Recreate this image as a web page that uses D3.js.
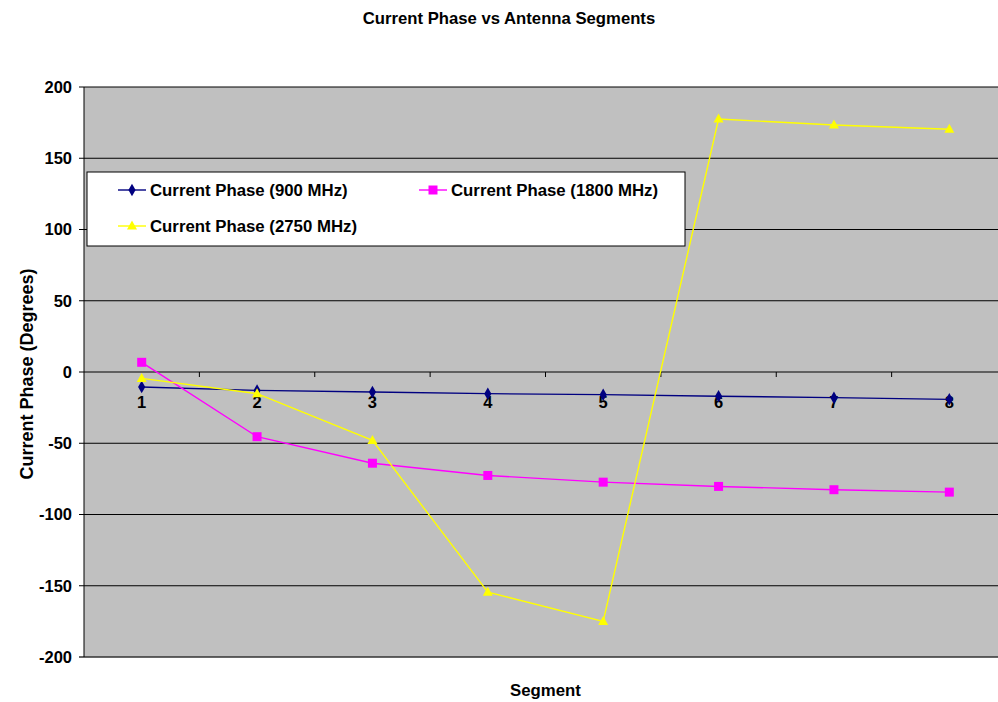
<!DOCTYPE html>
<html lang="en">
  <head>
    <meta charset="utf-8" />
    <title>Current Phase vs Antenna Segments</title>
    <script src="https://d3js.org/d3.v7.min.js"></script>
    <style>
      body { margin: 0; overflow: hidden; background: white; }
      text { font-family: "Liberation Sans", Arial, sans-serif; font-weight: bold; fill: black; }
      .title { font-size: 16.7px; }
      .tick-label { font-size: 16.5px; }
      .axis-title { font-size: 16.8px; }
      .y-title { font-size: 18px; }
      .legend-label { font-size: 16.8px; }
    </style>
  </head>
  <body>
    <svg width="998" height="702"></svg>
    <script>
      // data
      const segments = [1, 2, 3, 4, 5, 6, 7, 8];
      const phase900 = [-10.5, -12.9, -14, -15.2, -15.9, -17, -18, -19.2];
      const phase1800 = [6.8, -45.4, -64, -72.6, -77.3, -80.3, -82.6, -84.3];
      const phase2750 = [-4.5, -15.2, -48, -154.5, -175, 177.5, 173.3, 170.3];
      const yTicks = [-200, -150, -100, -50, 0, 50, 100, 150, 200];

      const series = [
        { name: "Current Phase (900 MHz)", values: phase900, color: "#000080", marker: "diamond" },
        { name: "Current Phase (1800 MHz)", values: phase1800, color: "#ff00ff", marker: "square" },
        { name: "Current Phase (2750 MHz)", values: phase2750, color: "#ffff00", marker: "triangle" },
      ];

      const svg = d3.select("svg");
      const plot = { left: 84, right: 1007, top: 87, bottom: 657 };

      const x = d3.scaleBand().domain(segments).range([plot.left, plot.right]);
      const y = d3.scaleLinear().domain([-200, 200]).range([plot.bottom, plot.top]);
      const cx = (d) => x(d) + x.bandwidth() / 2;

      // plot background
      svg.append("rect")
        .attr("x", plot.left).attr("y", plot.top)
        .attr("width", plot.right - plot.left).attr("height", plot.bottom - plot.top)
        .attr("fill", "#c0c0c0");

      // gridlines
      svg.append("g")
        .selectAll("line")
        .data(yTicks)
        .join("line")
        .attr("x1", plot.left - 5).attr("x2", plot.right)
        .attr("y1", (d) => y(d)).attr("y2", (d) => y(d))
        .attr("stroke", (d) => d === -200 ? "#333" : "black")
        .attr("stroke-width", (d) => d === -200 ? 1.5 : 1);

      svg.append("line")
        .attr("x1", plot.left).attr("x2", plot.left)
        .attr("y1", plot.top).attr("y2", plot.bottom)
        .attr("stroke", "black");

      // y tick labels
      svg.append("g")
        .selectAll("text")
        .data(yTicks)
        .join("text")
        .attr("class", "tick-label")
        .attr("x", 72)
        .attr("y", (d) => y(d))
        .attr("dy", "0.35em")
        .attr("text-anchor", "end")
        .text((d) => d);

      // x axis at zero: ticks at band edges
      const edges = segments.slice(1).map((d) => x(d));
      svg.append("g")
        .selectAll("line")
        .data(edges)
        .join("line")
        .attr("x1", (d) => d).attr("x2", (d) => d)
        .attr("y1", y(0)).attr("y2", y(0) + 5)
        .attr("stroke", "black");

      svg.append("g")
        .selectAll("text")
        .data(segments)
        .join("text")
        .attr("class", "tick-label")
        .attr("x", (d) => cx(d))
        .attr("y", y(0) + 36)
        .attr("text-anchor", "middle")
        .text((d) => d);

      // markers
      function markerPath(type) {
        if (type === "diamond") return d3.symbol(d3.symbolDiamond, 45)();
        if (type === "square") return "M-4.5,-4.5H4.5V4.5H-4.5Z";
        return "M0,-5.5L5,3.5H-5Z";
      }

      const line = d3.line().x((d, i) => cx(segments[i])).y((d) => y(d));

      series.forEach((s) => {
        svg.append("path")
          .datum(s.values)
          .attr("d", line)
          .attr("fill", "none")
          .attr("stroke", s.color)
          .attr("stroke-width", 1.4);
        svg.append("g")
          .selectAll("path")
          .data(s.values)
          .join("path")
          .attr("transform", (d, i) => "translate(" + cx(segments[i]) + "," + y(d) + ")")
          .attr("d", markerPath(s.marker))
          .attr("fill", s.color);
      });

      // legend
      const legend = svg.append("g");
      legend.append("rect")
        .attr("x", 87).attr("y", 172)
        .attr("width", 598).attr("height", 74)
        .attr("fill", "white").attr("stroke", "black");
      const legendPos = [
        { x: 118, y: 190 },
        { x: 419, y: 190 },
        { x: 118, y: 226 },
      ];
      series.forEach((s, i) => {
        const p = legendPos[i];
        legend.append("line")
          .attr("x1", p.x).attr("x2", p.x + 28)
          .attr("y1", p.y).attr("y2", p.y)
          .attr("stroke", s.color).attr("stroke-width", 1.4);
        legend.append("path")
          .attr("transform", "translate(" + (p.x + 14) + "," + p.y + ")")
          .attr("d", markerPath(s.marker))
          .attr("fill", s.color);
        legend.append("text")
          .attr("class", "legend-label")
          .attr("x", p.x + 32).attr("y", p.y)
          .attr("dy", "0.35em")
          .text(s.name);
      });

      // titles
      svg.append("text")
        .attr("class", "title")
        .attr("x", 509).attr("y", 24)
        .attr("text-anchor", "middle")
        .text("Current Phase vs Antenna Segments");

      svg.append("text")
        .attr("class", "axis-title")
        .attr("x", (plot.left + plot.right) / 2).attr("y", 696)
        .attr("text-anchor", "middle")
        .text("Segment");

      svg.append("text")
        .attr("class", "y-title")
        .attr("transform", "translate(33," + (y(0) + 2) + ") rotate(-90)")
        .attr("text-anchor", "middle")
        .text("Current Phase (Degrees)");
    </script>
  </body>
</html>
